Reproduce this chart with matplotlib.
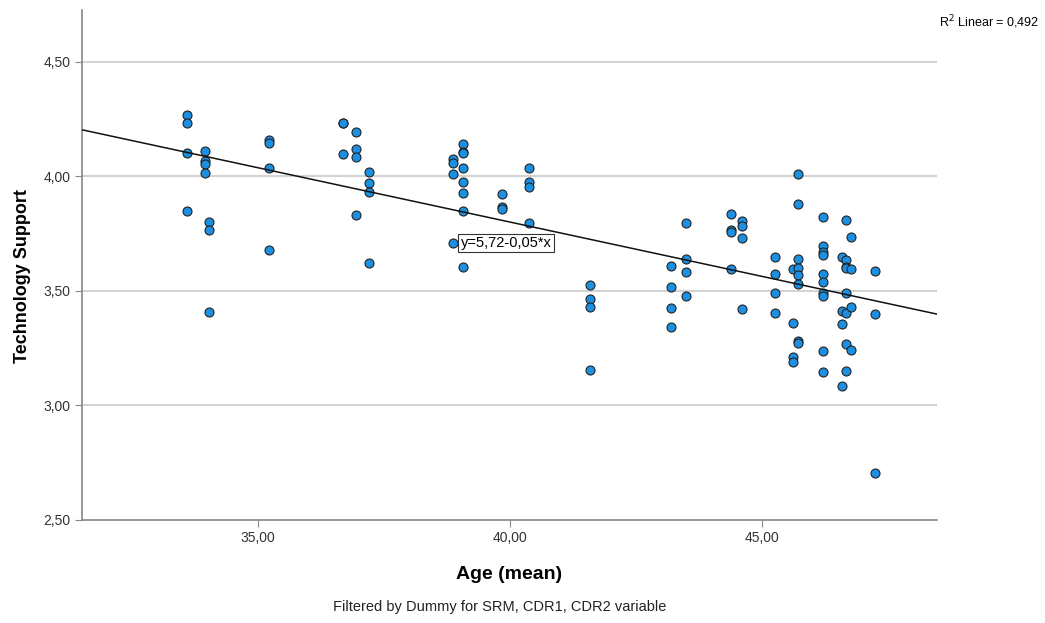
import matplotlib as mpl
import matplotlib.pyplot as plt
import numpy as np

mpl.rcParams["font.family"] = ["Liberation Sans", "DejaVu Sans"]

# Age (mean) per point, grouped by column
age = [33.59] * 4 + [33.95] * 4 + [34.03] * 3 + [35.22] * 4 \
    + [36.68] * 3 + [36.94] * 4 + [37.2] * 4 \
    + [38.86] * 4 + [39.06] * 8 + [39.85] * 3 + [40.38] * 4 \
    + [41.59] * 4 + [43.19] * 4 + [43.5] * 4 \
    + [44.38] * 4 + [44.61] * 4 \
    + [45.26] * 4 + [45.61] * 4 + [45.72] * 8 + [46.2] * 10 \
    + [46.58] * 4 + [46.67] * 8 + [46.76] * 4 + [47.23] * 3

tech_support = [4.268, 4.234, 4.100, 3.848,
                4.112, 4.068, 4.054, 4.016,
                3.801, 3.765, 3.408,
                4.159, 4.144, 4.035, 3.678,
                4.232, 4.232, 4.098,
                4.193, 4.119, 4.086, 3.831,
                4.020, 3.969, 3.933, 3.619,
                4.074, 4.060, 4.010, 3.707,
                4.141, 4.108, 4.101, 4.035, 3.976, 3.926, 3.848, 3.605,
                3.923, 3.864, 3.856,
                4.035, 3.976, 3.952, 3.794,
                3.524, 3.463, 3.430, 3.153,
                3.608, 3.517, 3.423, 3.342,
                3.794, 3.637, 3.583, 3.478,
                3.834, 3.765, 3.758, 3.595,
                3.806, 3.783, 3.731, 3.419,
                3.649, 3.573, 3.491, 3.401,
                3.596, 3.360, 3.211, 3.189,
                4.010, 3.877, 3.638, 3.598, 3.568, 3.528, 3.280, 3.272,
                3.821, 3.695, 3.670, 3.656, 3.571, 3.539, 3.488, 3.476,
                3.237, 3.145,
                3.646, 3.412, 3.353, 3.084,
                3.809, 3.634, 3.605, 3.598, 3.488, 3.401, 3.266, 3.150,
                3.733, 3.593, 3.430, 3.240,
                3.587, 3.398, 2.703]

fit_intercept = 5.70
fit_slope = -0.0475
fit_label = "y=5,72-0,05*x"
r2_label = "R$^2$ Linear = 0,492"

x_ticks = [35, 40, 45]
y_ticks = [2.5, 3.0, 3.5, 4.0, 4.5]


def comma(v):
    return f"{v:.2f}".replace(".", ",")


fig = plt.figure(figsize=(10.45, 6.23), dpi=100)
ax = fig.add_axes([0.0785, 0.1661, 0.8182, 0.8179])

xlim = (31.51, 48.47)
ax.set_xlim(xlim)
ax.set_ylim(2.5, 4.727)

for yt in y_ticks[1:]:
    ax.axhline(yt, color="#d3d3d3", lw=1.5, zorder=0)

ax.scatter(age, tech_support, s=42, color="#1b8fe2", edgecolors="#222222",
           linewidths=0.8, zorder=3)

xs = np.array(xlim)
ax.plot(xs, fit_intercept + fit_slope * xs, color="#111111", lw=1.1, zorder=4)

ax.text(39.02, 3.708, fit_label, fontsize=10.5, va="center", ha="left",
        zorder=5,
        bbox=dict(boxstyle="square,pad=0.15", fc="white", ec="#333333", lw=0.8))

ax.set_xticks(x_ticks)
ax.set_xticklabels([comma(v) for v in x_ticks])
ax.set_yticks(y_ticks)
ax.set_yticklabels([comma(v) for v in y_ticks])
ax.tick_params(axis="both", labelsize=10, color="#888888", length=5,
               labelcolor="#333333")

for side in ["top", "right"]:
    ax.spines[side].set_visible(False)
for side in ["left", "bottom"]:
    ax.spines[side].set_color("#888888")
    ax.spines[side].set_linewidth(1.2)

ax.set_xlabel("Age (mean)", fontsize=14, fontweight="bold")
ax.xaxis.set_label_coords(0.5, -0.092)
ax.set_ylabel("Technology Support", fontsize=13, fontweight="bold")
ax.yaxis.set_label_coords(-0.06, 0.478)

fig.text(0.995, 0.964, r2_label, fontsize=9, ha="right", va="center")
fig.text(0.478, 0.026, "Filtered by Dummy for SRM, CDR1, CDR2 variable",
         fontsize=10.5, ha="center", va="center", color="#222222")

fig.savefig("out.png", dpi=100)
